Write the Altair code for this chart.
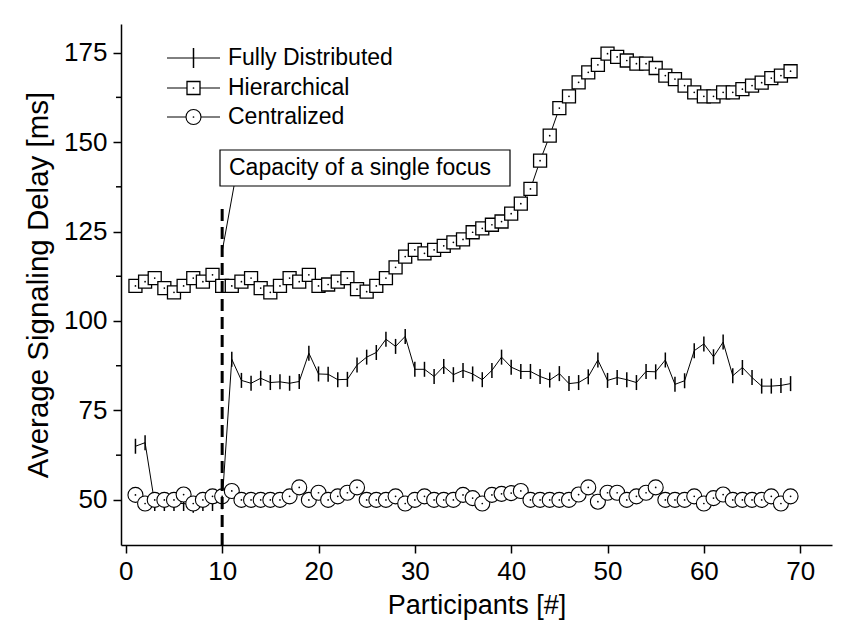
import altair as alt
import pandas as pd

participants = list(range(1, 70))

fully_distributed = [
    65, 66, 49, 49, 49, 49, 48.5, 49, 49, 49.5,
    89.3, 83.4, 82.6, 84.0, 82.8, 83.0, 82.6, 83.1, 91.0, 85.2,
    85.1, 83.6, 83.7, 87.7, 89.9, 91.2, 94.9, 92.9, 95.7, 86.5,
    86.5, 84.5, 87.3, 85.0, 86.2, 85.2, 83.6, 86.2, 89.9, 87.1,
    85.9, 85.9, 84.5, 83.5, 85.3, 82.5, 82.8, 84.4, 89.1, 83.4,
    84.2, 83.6, 82.8, 85.9, 85.8, 89.1, 82.3, 83.3, 91.7, 93.6,
    90.0, 94.1, 84.7, 87.0, 84.2, 81.8, 81.8, 82.0, 82.5,
]

hierarchical = [
    109.8, 111.0, 112.0, 109.2, 108.0, 109.8, 112.0, 111.0, 112.9, 109.8,
    109.8, 111.0, 112.0, 109.2, 108.0, 109.8, 112.0, 111.0, 112.9, 109.8,
    110.2, 111.0, 112.0, 108.9, 108.2, 109.8, 112.0, 115.0, 118.0, 119.9,
    118.9, 119.9, 121.0, 122.0, 122.8, 124.8, 125.9, 126.9, 127.8, 130.0,
    132.8, 136.9, 144.8, 151.8, 159.5, 162.8, 166.7, 169.5, 171.6, 174.7,
    173.8, 172.8, 171.9, 171.9, 170.7, 168.6, 167.6, 165.8, 163.9, 162.8,
    162.8, 163.9, 163.9, 164.8, 165.8, 166.6, 167.9, 168.6, 169.8,
]

centralized = [
    51.4, 49, 50, 50, 50, 51.5, 49, 50, 51, 51,
    52.5, 50, 50, 50, 50, 50, 51, 53.5, 50, 52,
    50, 51, 52, 53.5, 50, 50, 50, 51, 49, 50,
    51, 50, 50, 50, 51.4, 50.5, 49, 51.4, 51.7, 51.9,
    52.5, 50, 50, 50, 50, 50, 51.5, 53.5, 49.5, 52,
    52, 50, 51, 52, 53.5, 50, 50, 50, 51, 49,
    50.5, 51.5, 50, 50, 50, 50, 51, 49, 51,
]

series_names = ["Fully Distributed", "Hierarchical", "Centralized"]
x_ticks = [0, 10, 20, 30, 40, 50, 60, 70]
y_ticks = [50, 75, 100, 125, 150, 175]
y_minor = [62.5, 87.5, 112.5, 137.5, 162.5]
capacity_x = 10
annotation_text = "Capacity of a single focus"

FONT = "Liberation Sans"
X_DOMAIN = [-0.5, 73.3]
Y_DOMAIN = [37.4, 183]
W, H = 711, 521

xs = alt.Scale(domain=X_DOMAIN, nice=False, zero=False)
ys = alt.Scale(domain=Y_DOMAIN, nice=False, zero=False)
x_axis = alt.Axis(values=x_ticks, title="Participants [#]")
y_axis = alt.Axis(values=y_ticks, title="Average Signaling Delay [ms]")


def enc_x():
    return alt.X("x:Q", scale=xs, axis=x_axis)


def enc_y():
    return alt.Y("y:Q", scale=ys, axis=y_axis)


def df(vals):
    return pd.DataFrame({"x": participants, "y": vals})


one = pd.DataFrame({"a": [0]})

fd = df(fully_distributed)
hi = df(hierarchical)
ce = df(centralized)

tick_path = "M0,-1L0,1"

layers = []
# Fully distributed
layers.append(alt.Chart(fd).mark_line(color="black", strokeWidth=1).encode(x=enc_x(), y=enc_y()))
layers.append(alt.Chart(fd).mark_point(shape=tick_path, size=225, filled=False, color="black",
                                       strokeWidth=1.5, opacity=1).encode(x=enc_x(), y=enc_y()))
# Hierarchical
layers.append(alt.Chart(hi).mark_line(color="black", strokeWidth=1).encode(x=enc_x(), y=enc_y()))
layers.append(alt.Chart(hi).mark_point(shape="square", size=169, filled=True, fill="white",
                                       stroke="black", strokeWidth=1.3, opacity=1).encode(x=enc_x(), y=enc_y()))
layers.append(alt.Chart(hi).mark_point(shape="circle", size=3, filled=True, color="black",
                                       opacity=1).encode(x=enc_x(), y=enc_y()))
# Centralized
layers.append(alt.Chart(ce).mark_line(color="black", strokeWidth=1).encode(x=enc_x(), y=enc_y()))
layers.append(alt.Chart(ce).mark_point(shape="circle", size=225, filled=True, fill="white",
                                       stroke="black", strokeWidth=1.1, opacity=1).encode(x=enc_x(), y=enc_y()))
layers.append(alt.Chart(ce).mark_point(shape="circle", size=3, filled=True, color="black",
                                       opacity=1).encode(x=enc_x(), y=enc_y()))

# minor y ticks
minor_df = pd.DataFrame({"y": y_minor})
layers.append(alt.Chart(minor_df).mark_rule(color="black", strokeWidth=1.5).encode(
    x=alt.value(-5), x2=alt.value(0), y=enc_y()))

# capacity dashed line
layers.append(alt.Chart(one).mark_rule(color="black", strokeWidth=3, strokeDash=[12, 6]).encode(
    x=alt.X(datum=capacity_x, scale=xs, axis=x_axis),
    y=alt.Y(datum=Y_DOMAIN[0], scale=ys, axis=y_axis),
    y2=alt.Y2(datum=132.5)))

# annotation box, leader and text
layers.append(alt.Chart(one).mark_rect(fill="white", stroke="black", strokeWidth=1.2).encode(
    x=alt.value(99), x2=alt.value(389), y=alt.value(126), y2=alt.value(162)))
layers.append(alt.Chart(one).mark_rule(color="black", strokeWidth=1).encode(
    x=alt.value(100.5), x2=alt.value(113), y=alt.value(231), y2=alt.value(162)))
layers.append(alt.Chart(one).mark_text(align="left", baseline="middle", font=FONT, fontSize=23,
                                      color="black").encode(
    x=alt.value(108), y=alt.value(144), text=alt.value(annotation_text)))

# legend
leg_rows = [34, 64, 93]
leg_shapes = [
    dict(shape=tick_path, size=400, filled=False, color="black", strokeWidth=1.5),
    dict(shape="square", size=169, filled=True, fill="white", stroke="black", strokeWidth=1.3),
    dict(shape="circle", size=225, filled=True, fill="white", stroke="black", strokeWidth=1.1),
]
for name, yy, sh in zip(series_names, leg_rows, leg_shapes):
    layers.append(alt.Chart(one).mark_rule(color="black", strokeWidth=1).encode(
        x=alt.value(46), x2=alt.value(99), y=alt.value(yy)))
    layers.append(alt.Chart(one).mark_point(opacity=1, **sh).encode(
        x=alt.value(72.5), y=alt.value(yy)))
    if name != series_names[0]:
        layers.append(alt.Chart(one).mark_point(shape="circle", size=3, filled=True, color="black",
                                                opacity=1).encode(x=alt.value(72.5), y=alt.value(yy)))
    layers.append(alt.Chart(one).mark_text(align="left", baseline="middle", font=FONT, fontSize=23,
                                          color="black").encode(
        x=alt.value(107), y=alt.value(yy), text=alt.value(name)))

chart = alt.layer(*layers).properties(
    width=W, height=H,
    padding={"left": 121, "top": 24, "right": 12, "bottom": 88},
    autosize=alt.AutoSizeParams(type="none"),
    background="white",
).configure_view(stroke=None).configure_axis(
    domainColor="black", domainWidth=1.5, tickColor="black", tickWidth=1.5, tickSize=8,
    labelColor="black", titleColor="black", labelFont=FONT, titleFont=FONT,
    labelFontSize=26, titleFontSize=27, titleFontWeight="normal", grid=False,
).configure_axisX(labelPadding=5, titlePadding=8).configure_axisY(
    labelPadding=6, titlePadding=10, titleFontSize=29.5)

chart.save("out.html", embed_options={"renderer": "svg", "actions": False})
